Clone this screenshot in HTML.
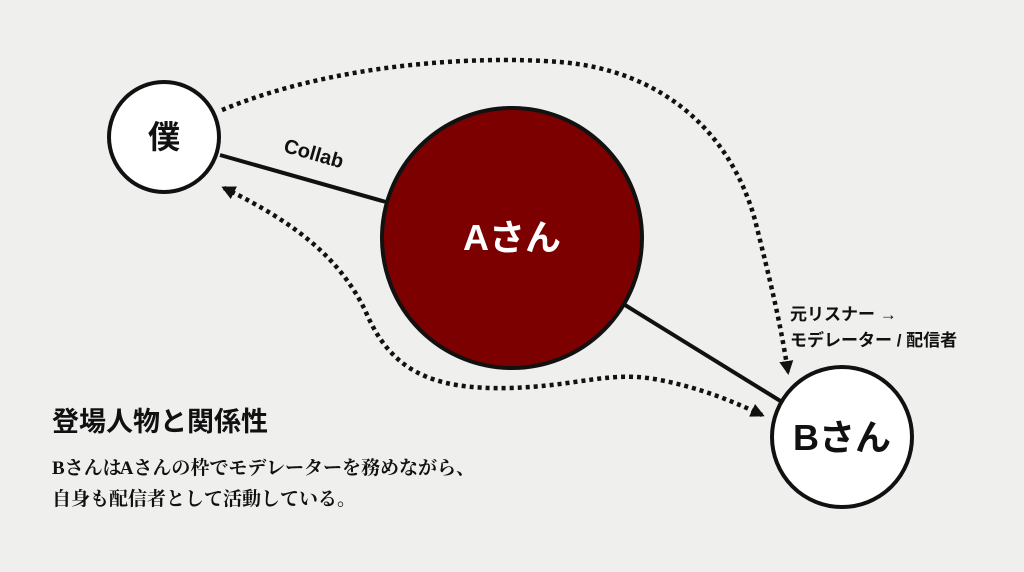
<!DOCTYPE html>
<html><head><meta charset="utf-8"><style>
html,body{margin:0;padding:0;background:#efefee;}
body{width:1024px;height:572px;position:relative;overflow:hidden;font-family:"Liberation Sans","Noto Sans CJK JP",sans-serif;}
.t{position:absolute;color:#111;}
</style></head><body>
<svg width="1024" height="572" style="position:absolute;left:0;top:0">
<defs>
<marker id="ah" markerWidth="14" markerHeight="14" refX="11" refY="7" orient="auto" markerUnits="userSpaceOnUse">
<path d="M0,0 L14,7 L0,14 Z" fill="#111"/></marker>
<marker id="as" markerWidth="14" markerHeight="14" refX="3" refY="7" orient="auto" markerUnits="userSpaceOnUse">
<path d="M14,0 L0,7 L14,14 Z" fill="#111"/></marker>
</defs>
<line x1="220" y1="155" x2="386" y2="202" stroke="#111" stroke-width="4"/>
<line x1="625" y1="305" x2="782" y2="402" stroke="#111" stroke-width="4"/>
<path d="M222,110 C330,65 470,55 560,62 C660,70 730,130 755,220 C770,280 780,320 788,372" fill="none" stroke="#111" stroke-width="4.5" stroke-dasharray="4,4" marker-end="url(#ah)"/>
<path d="M224,188 C300,225 340,260 365,310 C390,370 430,390 510,388 C580,386 610,370 660,380 C700,388 730,400 762,415" fill="none" stroke="#111" stroke-width="4.5" stroke-dasharray="4,4" marker-start="url(#as)" marker-end="url(#ah)"/>
<circle cx="164" cy="137" r="55" fill="#fff" stroke="#111" stroke-width="4"/>
<circle cx="512" cy="238" r="130" fill="#7d0000" stroke="#111" stroke-width="4"/>
<circle cx="842" cy="437" r="70" fill="#fff" stroke="#111" stroke-width="4"/>
<text x="164" y="148" text-anchor="middle" font-size="32" font-weight="bold" fill="#111" font-family="Liberation Sans,Noto Sans CJK JP,sans-serif">僕</text>
<text x="512" y="250" text-anchor="middle" font-size="36" font-weight="bold" fill="#fff" font-family="Liberation Sans,Noto Sans CJK JP,sans-serif">Aさん</text>
<text x="842" y="450" text-anchor="middle" font-size="36" font-weight="bold" fill="#111" font-family="Liberation Sans,Noto Sans CJK JP,sans-serif">Bさん</text>
<text x="312" y="160" text-anchor="middle" font-size="20" font-weight="bold" fill="#111" transform="rotate(16 312 160)" font-family="Liberation Sans,sans-serif">Collab</text>
</svg>
<div class="t" style="left:790px;top:302px;font-size:17px;font-weight:bold;line-height:26px">元リスナー →<br>モデレーター / 配信者</div>
<div class="t" style="left:52px;top:400px;font-size:27px;font-weight:bold">登場人物と関係性</div>
<div class="t" style="left:52px;top:453px;font-size:19px;line-height:31px;font-weight:bold;font-family:'Liberation Serif','Noto Serif CJK SC',serif">Bさんは<span style="margin-left:-2px">A</span>さんの枠でモデレーターを務めながら、<br>自身も配信者として活動している。</div>
</body></html>
